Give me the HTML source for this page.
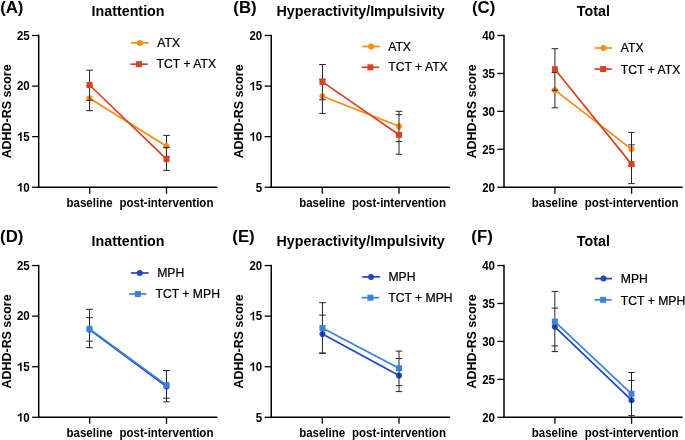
<!DOCTYPE html><html><head><meta charset="utf-8"><style>html,body{margin:0;padding:0;background:#fff;overflow:hidden;}svg{display:block;will-change:transform;} text{font-family:"Liberation Sans", sans-serif;fill:#000;} .lg{stroke:#000;stroke-width:0.22px;}</style></head><body>
<svg width="685" height="440" viewBox="0 0 685 440">
<rect width="685" height="440" fill="#fff"/>
<g>
<text transform="translate(11.8,13.3) scale(1,1.03)" font-size="16.8" font-weight="bold" text-anchor="middle">(A)</text>
<text transform="translate(128.05,16) scale(1,1.045)" font-size="14.3" font-weight="bold" text-anchor="middle">Inattention</text>
<text transform="translate(10.5,111.38) rotate(-90) scale(1,1.045)" font-size="12.45" font-weight="bold" text-anchor="middle">ADHD-RS score</text>
<g stroke="#000" fill="none">
<line x1="38.7" y1="34.75" x2="38.7" y2="188" stroke-width="1.5"/>
<line x1="37.95" y1="187.25" x2="217.4" y2="187.25" stroke-width="1.5"/>
<line x1="32.1" y1="187.25" x2="38.7" y2="187.25" stroke-width="1.3"/>
<line x1="32.1" y1="136.67" x2="38.7" y2="136.67" stroke-width="1.3"/>
<line x1="32.1" y1="86.08" x2="38.7" y2="86.08" stroke-width="1.3"/>
<line x1="32.1" y1="35.5" x2="38.7" y2="35.5" stroke-width="1.3"/>
<line x1="89.7" y1="187.25" x2="89.7" y2="193.75" stroke-width="1.3"/>
<line x1="166.5" y1="187.25" x2="166.5" y2="193.75" stroke-width="1.3"/>
</g>
<text transform="translate(29.7,191.55) scale(1,1.045)" font-size="11.5" font-weight="bold" text-anchor="end">0</text>
<path d="M21.61,191.55 L21.61,182.95 L20.38,182.95 L20.05,183.57 L19.32,184.27 L18.48,184.74 L17.69,185.1 L17.69,186.5 L18.54,186.09 L19.32,185.68 L20.08,185.21 L20.08,191.55Z" fill="#000"/>
<text transform="translate(29.7,140.97) scale(1,1.045)" font-size="11.5" font-weight="bold" text-anchor="end">5</text>
<path d="M21.61,140.97 L21.61,132.36 L20.38,132.36 L20.05,132.99 L19.32,133.69 L18.48,134.16 L17.69,134.51 L17.69,135.92 L18.54,135.51 L19.32,135.1 L20.08,134.63 L20.08,140.97Z" fill="#000"/>
<text transform="translate(29.7,90.38) scale(1,1.045)" font-size="11.5" font-weight="bold" text-anchor="end">20</text>
<text transform="translate(29.7,39.8) scale(1,1.045)" font-size="11.5" font-weight="bold" text-anchor="end">25</text>
<text transform="translate(89.55,206.8) scale(1,1.045)" font-size="11.5" font-weight="bold" text-anchor="middle">baseline</text>
<text transform="translate(166.5,206.8) scale(1,1.045)" font-size="11.5" font-weight="bold" text-anchor="middle">post-intervention</text>
<g stroke="#262626" stroke-width="1.0" fill="none">
<line x1="89.55" y1="85.9" x2="89.55" y2="110.7"/>
<line x1="86.25" y1="85.9" x2="92.85" y2="85.9"/>
<line x1="86.25" y1="110.7" x2="92.85" y2="110.7"/>
<line x1="166.5" y1="135.4" x2="166.5" y2="156.4"/>
<line x1="163.2" y1="135.4" x2="169.8" y2="135.4"/>
<line x1="163.2" y1="156.4" x2="169.8" y2="156.4"/>
</g>
<line x1="89.55" y1="98.3" x2="166.5" y2="146.3" stroke="#FB8A0E" stroke-width="1.7"/>
<circle cx="89.55" cy="98.3" r="3.0" fill="#FB8A0E"/>
<circle cx="166.5" cy="146.3" r="3.0" fill="#FB8A0E"/>
<g stroke="#262626" stroke-width="1.0" fill="none">
<line x1="89.55" y1="70.2" x2="89.55" y2="85.9"/>
<line x1="89.55" y1="95.3" x2="89.55" y2="100.3"/>
<line x1="86.25" y1="70.2" x2="92.85" y2="70.2"/>
<line x1="86.25" y1="100.3" x2="92.85" y2="100.3"/>
<line x1="166.5" y1="147.3" x2="166.5" y2="149.3"/>
<line x1="166.5" y1="156.4" x2="166.5" y2="170.4"/>
<line x1="163.2" y1="147.3" x2="169.8" y2="147.3"/>
<line x1="163.2" y1="170.4" x2="169.8" y2="170.4"/>
</g>
<line x1="89.55" y1="85" x2="166.5" y2="159.1" stroke="#D9421E" stroke-width="1.7"/>
<rect x="86.55" y="82" width="6" height="6" fill="#D9421E"/>
<rect x="163.5" y="156.1" width="6" height="6" fill="#D9421E"/>
<line x1="131" y1="42.9" x2="148.7" y2="42.9" stroke="#FB8A0E" stroke-width="1.7"/>
<circle cx="139.85" cy="42.9" r="3.0" fill="#FB8A0E"/>
<line x1="130.2" y1="64.2" x2="147.7" y2="64.2" stroke="#D9421E" stroke-width="1.7"/>
<rect x="135.95" y="61.2" width="6" height="6" fill="#D9421E"/>
<text transform="translate(157.3,47) scale(1,1.045)" font-size="12.2" class="lg">ATX</text>
<text transform="translate(156.6,68.3) scale(1,1.045)" font-size="12.2" class="lg">TCT + ATX</text>
</g>
<g>
<text transform="translate(245,13.3) scale(1,1.03)" font-size="16.8" font-weight="bold" text-anchor="middle">(B)</text>
<text transform="translate(360.6,16) scale(1,1.045)" font-size="14.3" font-weight="bold" text-anchor="middle">Hyperactivity/Impulsivity</text>
<text transform="translate(243.05,111.38) rotate(-90) scale(1,1.045)" font-size="12.45" font-weight="bold" text-anchor="middle">ADHD-RS score</text>
<g stroke="#000" fill="none">
<line x1="271.25" y1="34.75" x2="271.25" y2="188" stroke-width="1.5"/>
<line x1="270.5" y1="187.25" x2="449.95" y2="187.25" stroke-width="1.5"/>
<line x1="264.65" y1="187.25" x2="271.25" y2="187.25" stroke-width="1.3"/>
<line x1="264.65" y1="136.67" x2="271.25" y2="136.67" stroke-width="1.3"/>
<line x1="264.65" y1="86.08" x2="271.25" y2="86.08" stroke-width="1.3"/>
<line x1="264.65" y1="35.5" x2="271.25" y2="35.5" stroke-width="1.3"/>
<line x1="322.3" y1="187.25" x2="322.3" y2="193.75" stroke-width="1.3"/>
<line x1="399" y1="187.25" x2="399" y2="193.75" stroke-width="1.3"/>
</g>
<text transform="translate(262.25,191.55) scale(1,1.045)" font-size="11.5" font-weight="bold" text-anchor="end">5</text>
<text transform="translate(262.25,140.97) scale(1,1.045)" font-size="11.5" font-weight="bold" text-anchor="end">0</text>
<path d="M254.16,140.97 L254.16,132.36 L252.93,132.36 L252.6,132.99 L251.87,133.69 L251.03,134.16 L250.24,134.51 L250.24,135.92 L251.09,135.51 L251.87,135.1 L252.63,134.63 L252.63,140.97Z" fill="#000"/>
<text transform="translate(262.25,90.38) scale(1,1.045)" font-size="11.5" font-weight="bold" text-anchor="end">5</text>
<path d="M254.16,90.38 L254.16,81.78 L252.93,81.78 L252.6,82.4 L251.87,83.11 L251.03,83.58 L250.24,83.93 L250.24,85.34 L251.09,84.93 L251.87,84.52 L252.63,84.05 L252.63,90.38Z" fill="#000"/>
<text transform="translate(262.25,39.8) scale(1,1.045)" font-size="11.5" font-weight="bold" text-anchor="end">20</text>
<text transform="translate(322.15,206.8) scale(1,1.045)" font-size="11.5" font-weight="bold" text-anchor="middle">baseline</text>
<text transform="translate(399,206.8) scale(1,1.045)" font-size="11.5" font-weight="bold" text-anchor="middle">post-intervention</text>
<g stroke="#262626" stroke-width="1.0" fill="none">
<line x1="322.45" y1="79.2" x2="322.45" y2="113.4"/>
<line x1="319.15" y1="79.2" x2="325.75" y2="79.2"/>
<line x1="319.15" y1="113.4" x2="325.75" y2="113.4"/>
<line x1="399" y1="111.3" x2="399" y2="141.6"/>
<line x1="395.7" y1="111.3" x2="402.3" y2="111.3"/>
<line x1="395.7" y1="141.6" x2="402.3" y2="141.6"/>
</g>
<line x1="322.45" y1="96.3" x2="399" y2="126.3" stroke="#FB8A0E" stroke-width="1.7"/>
<circle cx="322.45" cy="96.3" r="3.0" fill="#FB8A0E"/>
<circle cx="399" cy="126.3" r="3.0" fill="#FB8A0E"/>
<g stroke="#262626" stroke-width="1.0" fill="none">
<line x1="322.45" y1="64.5" x2="322.45" y2="79.2"/>
<line x1="322.45" y1="93.3" x2="322.45" y2="99.3"/>
<line x1="319.15" y1="64.5" x2="325.75" y2="64.5"/>
<line x1="319.15" y1="99.75" x2="325.75" y2="99.75"/>
<line x1="399" y1="123.3" x2="399" y2="129.3"/>
<line x1="399" y1="141.6" x2="399" y2="154.3"/>
<line x1="395.7" y1="114.7" x2="402.3" y2="114.7"/>
<line x1="395.7" y1="154.3" x2="402.3" y2="154.3"/>
</g>
<line x1="322.45" y1="81.9" x2="399" y2="134.8" stroke="#D9421E" stroke-width="1.7"/>
<rect x="319.45" y="78.9" width="6" height="6" fill="#D9421E"/>
<rect x="396" y="131.8" width="6" height="6" fill="#D9421E"/>
<line x1="362.2" y1="46.5" x2="379.9" y2="46.5" stroke="#FB8A0E" stroke-width="1.7"/>
<circle cx="371.05" cy="46.5" r="3.0" fill="#FB8A0E"/>
<line x1="361.7" y1="67.3" x2="379.1" y2="67.3" stroke="#D9421E" stroke-width="1.7"/>
<rect x="367.4" y="64.3" width="6" height="6" fill="#D9421E"/>
<text transform="translate(388.2,50.6) scale(1,1.045)" font-size="12.2" class="lg">ATX</text>
<text transform="translate(388.2,71.4) scale(1,1.045)" font-size="12.2" class="lg">TCT + ATX</text>
</g>
<g>
<text transform="translate(483.65,13.3) scale(1,1.03)" font-size="16.8" font-weight="bold" text-anchor="middle">(C)</text>
<text transform="translate(593.35,16) scale(1,1.045)" font-size="14.3" font-weight="bold" text-anchor="middle">Total</text>
<text transform="translate(475.8,111.38) rotate(-90) scale(1,1.045)" font-size="12.45" font-weight="bold" text-anchor="middle">ADHD-RS score</text>
<g stroke="#000" fill="none">
<line x1="504" y1="34.75" x2="504" y2="188" stroke-width="1.5"/>
<line x1="503.25" y1="187.25" x2="682.7" y2="187.25" stroke-width="1.5"/>
<line x1="497.4" y1="187.25" x2="504" y2="187.25" stroke-width="1.3"/>
<line x1="497.4" y1="149.31" x2="504" y2="149.31" stroke-width="1.3"/>
<line x1="497.4" y1="111.38" x2="504" y2="111.38" stroke-width="1.3"/>
<line x1="497.4" y1="73.44" x2="504" y2="73.44" stroke-width="1.3"/>
<line x1="497.4" y1="35.5" x2="504" y2="35.5" stroke-width="1.3"/>
<line x1="554.9" y1="187.25" x2="554.9" y2="193.75" stroke-width="1.3"/>
<line x1="631.6" y1="187.25" x2="631.6" y2="193.75" stroke-width="1.3"/>
</g>
<text transform="translate(495,191.55) scale(1,1.045)" font-size="11.5" font-weight="bold" text-anchor="end">20</text>
<text transform="translate(495,153.61) scale(1,1.045)" font-size="11.5" font-weight="bold" text-anchor="end">25</text>
<text transform="translate(495,115.67) scale(1,1.045)" font-size="11.5" font-weight="bold" text-anchor="end">30</text>
<text transform="translate(495,77.74) scale(1,1.045)" font-size="11.5" font-weight="bold" text-anchor="end">35</text>
<text transform="translate(495,39.8) scale(1,1.045)" font-size="11.5" font-weight="bold" text-anchor="end">40</text>
<text transform="translate(554.75,206.8) scale(1,1.045)" font-size="11.5" font-weight="bold" text-anchor="middle">baseline</text>
<text transform="translate(631.6,206.8) scale(1,1.045)" font-size="11.5" font-weight="bold" text-anchor="middle">post-intervention</text>
<g stroke="#262626" stroke-width="1.0" fill="none">
<line x1="554.9" y1="72.6" x2="554.9" y2="107.8"/>
<line x1="551.6" y1="72.6" x2="558.2" y2="72.6"/>
<line x1="551.6" y1="107.8" x2="558.2" y2="107.8"/>
<line x1="631.5" y1="132.4" x2="631.5" y2="165.8"/>
<line x1="628.2" y1="132.4" x2="634.8" y2="132.4"/>
<line x1="628.2" y1="165.8" x2="634.8" y2="165.8"/>
</g>
<line x1="554.9" y1="90.2" x2="631.5" y2="149.1" stroke="#FB8A0E" stroke-width="1.7"/>
<circle cx="554.9" cy="90.2" r="3.0" fill="#FB8A0E"/>
<circle cx="631.5" cy="149.1" r="3.0" fill="#FB8A0E"/>
<g stroke="#262626" stroke-width="1.0" fill="none">
<line x1="554.9" y1="48.7" x2="554.9" y2="72.6"/>
<line x1="554.9" y1="87.2" x2="554.9" y2="90.4"/>
<line x1="551.6" y1="48.7" x2="558.2" y2="48.7"/>
<line x1="551.6" y1="90.4" x2="558.2" y2="90.4"/>
<line x1="631.5" y1="146.1" x2="631.5" y2="152.1"/>
<line x1="631.5" y1="165.8" x2="631.5" y2="183.6"/>
<line x1="628.2" y1="144.9" x2="634.8" y2="144.9"/>
<line x1="628.2" y1="183.6" x2="634.8" y2="183.6"/>
</g>
<line x1="554.9" y1="69.2" x2="631.5" y2="164.1" stroke="#D9421E" stroke-width="1.7"/>
<rect x="551.9" y="66.2" width="6" height="6" fill="#D9421E"/>
<rect x="628.5" y="161.1" width="6" height="6" fill="#D9421E"/>
<line x1="594.9" y1="48" x2="612" y2="48" stroke="#FB8A0E" stroke-width="1.7"/>
<circle cx="603.45" cy="48" r="3.0" fill="#FB8A0E"/>
<line x1="594.5" y1="69.1" x2="611.7" y2="69.1" stroke="#D9421E" stroke-width="1.7"/>
<rect x="600.1" y="66.1" width="6" height="6" fill="#D9421E"/>
<text transform="translate(620.8,52.4) scale(1,1.045)" font-size="12.2" class="lg">ATX</text>
<text transform="translate(620.8,73.5) scale(1,1.045)" font-size="12.2" class="lg">TCT + ATX</text>
</g>
<g>
<text transform="translate(11.75,242.3) scale(1,1.03)" font-size="16.8" font-weight="bold" text-anchor="middle">(D)</text>
<text transform="translate(128.05,246.3) scale(1,1.045)" font-size="14.3" font-weight="bold" text-anchor="middle">Inattention</text>
<text transform="translate(10.5,341.43) rotate(-90) scale(1,1.045)" font-size="12.45" font-weight="bold" text-anchor="middle">ADHD-RS score</text>
<g stroke="#000" fill="none">
<line x1="38.7" y1="264.8" x2="38.7" y2="418.05" stroke-width="1.5"/>
<line x1="37.95" y1="417.3" x2="217.4" y2="417.3" stroke-width="1.5"/>
<line x1="32.1" y1="417.3" x2="38.7" y2="417.3" stroke-width="1.3"/>
<line x1="32.1" y1="366.72" x2="38.7" y2="366.72" stroke-width="1.3"/>
<line x1="32.1" y1="316.13" x2="38.7" y2="316.13" stroke-width="1.3"/>
<line x1="32.1" y1="265.55" x2="38.7" y2="265.55" stroke-width="1.3"/>
<line x1="89.7" y1="417.3" x2="89.7" y2="423.8" stroke-width="1.3"/>
<line x1="166.5" y1="417.3" x2="166.5" y2="423.8" stroke-width="1.3"/>
</g>
<text transform="translate(29.7,421.6) scale(1,1.045)" font-size="11.5" font-weight="bold" text-anchor="end">0</text>
<path d="M21.61,421.6 L21.61,413 L20.38,413 L20.05,413.62 L19.32,414.32 L18.48,414.79 L17.69,415.15 L17.69,416.55 L18.54,416.14 L19.32,415.73 L20.08,415.26 L20.08,421.6Z" fill="#000"/>
<text transform="translate(29.7,371.02) scale(1,1.045)" font-size="11.5" font-weight="bold" text-anchor="end">5</text>
<path d="M21.61,371.02 L21.61,362.41 L20.38,362.41 L20.05,363.04 L19.32,363.74 L18.48,364.21 L17.69,364.56 L17.69,365.97 L18.54,365.56 L19.32,365.15 L20.08,364.68 L20.08,371.02Z" fill="#000"/>
<text transform="translate(29.7,320.43) scale(1,1.045)" font-size="11.5" font-weight="bold" text-anchor="end">20</text>
<text transform="translate(29.7,269.85) scale(1,1.045)" font-size="11.5" font-weight="bold" text-anchor="end">25</text>
<text transform="translate(89.55,436.85) scale(1,1.045)" font-size="11.5" font-weight="bold" text-anchor="middle">baseline</text>
<text transform="translate(166.5,436.85) scale(1,1.045)" font-size="11.5" font-weight="bold" text-anchor="middle">post-intervention</text>
<g stroke="#262626" stroke-width="1.0" fill="none">
<line x1="89.5" y1="317.7" x2="89.5" y2="341.2"/>
<line x1="86.2" y1="317.7" x2="92.8" y2="317.7"/>
<line x1="86.2" y1="341.2" x2="92.8" y2="341.2"/>
<line x1="166.5" y1="370.5" x2="166.5" y2="401.8"/>
<line x1="163.2" y1="370.5" x2="169.8" y2="370.5"/>
<line x1="163.2" y1="401.8" x2="169.8" y2="401.8"/>
</g>
<line x1="89.5" y1="329.65" x2="166.5" y2="386.5" stroke="#2145C8" stroke-width="1.7"/>
<circle cx="89.5" cy="329.65" r="3.0" fill="#2145C8"/>
<circle cx="166.5" cy="386.5" r="3.0" fill="#2145C8"/>
<g stroke="#262626" stroke-width="1.0" fill="none">
<line x1="89.5" y1="309.3" x2="89.5" y2="317.7"/>
<line x1="89.5" y1="326.65" x2="89.5" y2="332.65"/>
<line x1="89.5" y1="341.2" x2="89.5" y2="347.7"/>
<line x1="86.2" y1="309.3" x2="92.8" y2="309.3"/>
<line x1="86.2" y1="347.7" x2="92.8" y2="347.7"/>
<line x1="166.5" y1="383.5" x2="166.5" y2="389.5"/>
<line x1="163.2" y1="370.5" x2="169.8" y2="370.5"/>
<line x1="163.2" y1="398.2" x2="169.8" y2="398.2"/>
</g>
<line x1="89.5" y1="328.9" x2="166.5" y2="385.2" stroke="#3A82DC" stroke-width="1.7"/>
<rect x="86.5" y="325.9" width="6" height="6" fill="#3A82DC"/>
<rect x="163.5" y="382.2" width="6" height="6" fill="#3A82DC"/>
<line x1="130.9" y1="273" x2="148.6" y2="273" stroke="#2145C8" stroke-width="1.7"/>
<circle cx="139.75" cy="273" r="3.0" fill="#2145C8"/>
<line x1="129.2" y1="294" x2="146.5" y2="294" stroke="#3A82DC" stroke-width="1.7"/>
<rect x="134.85" y="291" width="6" height="6" fill="#3A82DC"/>
<text transform="translate(157.2,277.4) scale(1,1.045)" font-size="12.2" class="lg">MPH</text>
<text transform="translate(155.5,298.4) scale(1,1.045)" font-size="12.2" class="lg">TCT + MPH</text>
</g>
<g>
<text transform="translate(243.5,242.3) scale(1,1.03)" font-size="16.8" font-weight="bold" text-anchor="middle">(E)</text>
<text transform="translate(360.6,246.3) scale(1,1.045)" font-size="14.3" font-weight="bold" text-anchor="middle">Hyperactivity/Impulsivity</text>
<text transform="translate(243.05,341.43) rotate(-90) scale(1,1.045)" font-size="12.45" font-weight="bold" text-anchor="middle">ADHD-RS score</text>
<g stroke="#000" fill="none">
<line x1="271.25" y1="264.8" x2="271.25" y2="418.05" stroke-width="1.5"/>
<line x1="270.5" y1="417.3" x2="449.95" y2="417.3" stroke-width="1.5"/>
<line x1="264.65" y1="417.3" x2="271.25" y2="417.3" stroke-width="1.3"/>
<line x1="264.65" y1="366.72" x2="271.25" y2="366.72" stroke-width="1.3"/>
<line x1="264.65" y1="316.13" x2="271.25" y2="316.13" stroke-width="1.3"/>
<line x1="264.65" y1="265.55" x2="271.25" y2="265.55" stroke-width="1.3"/>
<line x1="322.3" y1="417.3" x2="322.3" y2="423.8" stroke-width="1.3"/>
<line x1="399" y1="417.3" x2="399" y2="423.8" stroke-width="1.3"/>
</g>
<text transform="translate(262.25,421.6) scale(1,1.045)" font-size="11.5" font-weight="bold" text-anchor="end">5</text>
<text transform="translate(262.25,371.02) scale(1,1.045)" font-size="11.5" font-weight="bold" text-anchor="end">0</text>
<path d="M254.16,371.02 L254.16,362.41 L252.93,362.41 L252.6,363.04 L251.87,363.74 L251.03,364.21 L250.24,364.56 L250.24,365.97 L251.09,365.56 L251.87,365.15 L252.63,364.68 L252.63,371.02Z" fill="#000"/>
<text transform="translate(262.25,320.43) scale(1,1.045)" font-size="11.5" font-weight="bold" text-anchor="end">5</text>
<path d="M254.16,320.43 L254.16,311.83 L252.93,311.83 L252.6,312.45 L251.87,313.16 L251.03,313.63 L250.24,313.98 L250.24,315.39 L251.09,314.98 L251.87,314.57 L252.63,314.1 L252.63,320.43Z" fill="#000"/>
<text transform="translate(262.25,269.85) scale(1,1.045)" font-size="11.5" font-weight="bold" text-anchor="end">20</text>
<text transform="translate(322.15,436.85) scale(1,1.045)" font-size="11.5" font-weight="bold" text-anchor="middle">baseline</text>
<text transform="translate(399,436.85) scale(1,1.045)" font-size="11.5" font-weight="bold" text-anchor="middle">post-intervention</text>
<g stroke="#262626" stroke-width="1.0" fill="none">
<line x1="322.45" y1="315.1" x2="322.45" y2="353.3"/>
<line x1="319.15" y1="315.1" x2="325.75" y2="315.1"/>
<line x1="319.15" y1="353.3" x2="325.75" y2="353.3"/>
<line x1="399" y1="358.6" x2="399" y2="391.6"/>
<line x1="395.7" y1="358.6" x2="402.3" y2="358.6"/>
<line x1="395.7" y1="391.6" x2="402.3" y2="391.6"/>
</g>
<line x1="322.45" y1="334.1" x2="399" y2="375.6" stroke="#2145C8" stroke-width="1.7"/>
<circle cx="322.45" cy="334.1" r="3.0" fill="#2145C8"/>
<circle cx="399" cy="375.6" r="3.0" fill="#2145C8"/>
<g stroke="#262626" stroke-width="1.0" fill="none">
<line x1="322.45" y1="302.7" x2="322.45" y2="315.1"/>
<line x1="322.45" y1="331.1" x2="322.45" y2="337.1"/>
<line x1="319.15" y1="302.7" x2="325.75" y2="302.7"/>
<line x1="319.15" y1="353" x2="325.75" y2="353"/>
<line x1="399" y1="351.1" x2="399" y2="358.6"/>
<line x1="399" y1="372.6" x2="399" y2="378.6"/>
<line x1="395.7" y1="351.1" x2="402.3" y2="351.1"/>
<line x1="395.7" y1="385.6" x2="402.3" y2="385.6"/>
</g>
<line x1="322.45" y1="327.95" x2="399" y2="368.25" stroke="#3A82DC" stroke-width="1.7"/>
<rect x="319.45" y="324.95" width="6" height="6" fill="#3A82DC"/>
<rect x="396" y="365.25" width="6" height="6" fill="#3A82DC"/>
<line x1="362.2" y1="276.9" x2="379.9" y2="276.9" stroke="#2145C8" stroke-width="1.7"/>
<circle cx="371.05" cy="276.9" r="3.0" fill="#2145C8"/>
<line x1="361.7" y1="297.7" x2="379.1" y2="297.7" stroke="#3A82DC" stroke-width="1.7"/>
<rect x="367.4" y="294.7" width="6" height="6" fill="#3A82DC"/>
<text transform="translate(388.4,281) scale(1,1.045)" font-size="12.2" class="lg">MPH</text>
<text transform="translate(388.2,301.8) scale(1,1.045)" font-size="12.2" class="lg">TCT + MPH</text>
</g>
<g>
<text transform="translate(482.1,242.3) scale(1,1.03)" font-size="16.8" font-weight="bold" text-anchor="middle">(F)</text>
<text transform="translate(593.35,246.3) scale(1,1.045)" font-size="14.3" font-weight="bold" text-anchor="middle">Total</text>
<text transform="translate(475.8,341.43) rotate(-90) scale(1,1.045)" font-size="12.45" font-weight="bold" text-anchor="middle">ADHD-RS score</text>
<g stroke="#000" fill="none">
<line x1="504" y1="264.8" x2="504" y2="418.05" stroke-width="1.5"/>
<line x1="503.25" y1="417.3" x2="682.7" y2="417.3" stroke-width="1.5"/>
<line x1="497.4" y1="417.3" x2="504" y2="417.3" stroke-width="1.3"/>
<line x1="497.4" y1="379.36" x2="504" y2="379.36" stroke-width="1.3"/>
<line x1="497.4" y1="341.43" x2="504" y2="341.43" stroke-width="1.3"/>
<line x1="497.4" y1="303.49" x2="504" y2="303.49" stroke-width="1.3"/>
<line x1="497.4" y1="265.55" x2="504" y2="265.55" stroke-width="1.3"/>
<line x1="554.9" y1="417.3" x2="554.9" y2="423.8" stroke-width="1.3"/>
<line x1="631.6" y1="417.3" x2="631.6" y2="423.8" stroke-width="1.3"/>
</g>
<text transform="translate(495,421.6) scale(1,1.045)" font-size="11.5" font-weight="bold" text-anchor="end">20</text>
<text transform="translate(495,383.66) scale(1,1.045)" font-size="11.5" font-weight="bold" text-anchor="end">25</text>
<text transform="translate(495,345.73) scale(1,1.045)" font-size="11.5" font-weight="bold" text-anchor="end">30</text>
<text transform="translate(495,307.79) scale(1,1.045)" font-size="11.5" font-weight="bold" text-anchor="end">35</text>
<text transform="translate(495,269.85) scale(1,1.045)" font-size="11.5" font-weight="bold" text-anchor="end">40</text>
<text transform="translate(554.75,436.85) scale(1,1.045)" font-size="11.5" font-weight="bold" text-anchor="middle">baseline</text>
<text transform="translate(631.6,436.85) scale(1,1.045)" font-size="11.5" font-weight="bold" text-anchor="middle">post-intervention</text>
<g stroke="#262626" stroke-width="1.0" fill="none">
<line x1="554.85" y1="308.1" x2="554.85" y2="345.9"/>
<line x1="551.55" y1="308.1" x2="558.15" y2="308.1"/>
<line x1="551.55" y1="345.9" x2="558.15" y2="345.9"/>
<line x1="631.5" y1="380.4" x2="631.5" y2="417.3"/>
<line x1="628.2" y1="380.4" x2="634.8" y2="380.4"/>
</g>
<line x1="554.85" y1="326.8" x2="631.5" y2="400.2" stroke="#2145C8" stroke-width="1.7"/>
<circle cx="554.85" cy="326.8" r="3.0" fill="#2145C8"/>
<circle cx="631.5" cy="400.2" r="3.0" fill="#2145C8"/>
<g stroke="#262626" stroke-width="1.0" fill="none">
<line x1="554.85" y1="291.4" x2="554.85" y2="308.1"/>
<line x1="554.85" y1="323.8" x2="554.85" y2="329.8"/>
<line x1="554.85" y1="345.9" x2="554.85" y2="351.6"/>
<line x1="551.55" y1="291.4" x2="558.15" y2="291.4"/>
<line x1="551.55" y1="351.6" x2="558.15" y2="351.6"/>
<line x1="631.5" y1="372.5" x2="631.5" y2="380.4"/>
<line x1="631.5" y1="397.2" x2="631.5" y2="403.2"/>
<line x1="628.2" y1="372.5" x2="634.8" y2="372.5"/>
<line x1="628.2" y1="415.6" x2="634.8" y2="415.6"/>
</g>
<line x1="554.85" y1="321.6" x2="631.5" y2="393.8" stroke="#3A82DC" stroke-width="1.7"/>
<rect x="551.85" y="318.6" width="6" height="6" fill="#3A82DC"/>
<rect x="628.5" y="390.8" width="6" height="6" fill="#3A82DC"/>
<line x1="594.9" y1="278.6" x2="612" y2="278.6" stroke="#2145C8" stroke-width="1.7"/>
<circle cx="603.45" cy="278.6" r="3.0" fill="#2145C8"/>
<line x1="594.5" y1="299.8" x2="611.7" y2="299.8" stroke="#3A82DC" stroke-width="1.7"/>
<rect x="600.1" y="296.8" width="6" height="6" fill="#3A82DC"/>
<text transform="translate(620.8,283.3) scale(1,1.045)" font-size="12.2" class="lg">MPH</text>
<text transform="translate(620.8,304.5) scale(1,1.045)" font-size="12.2" class="lg">TCT + MPH</text>
</g>
</svg></body></html>
